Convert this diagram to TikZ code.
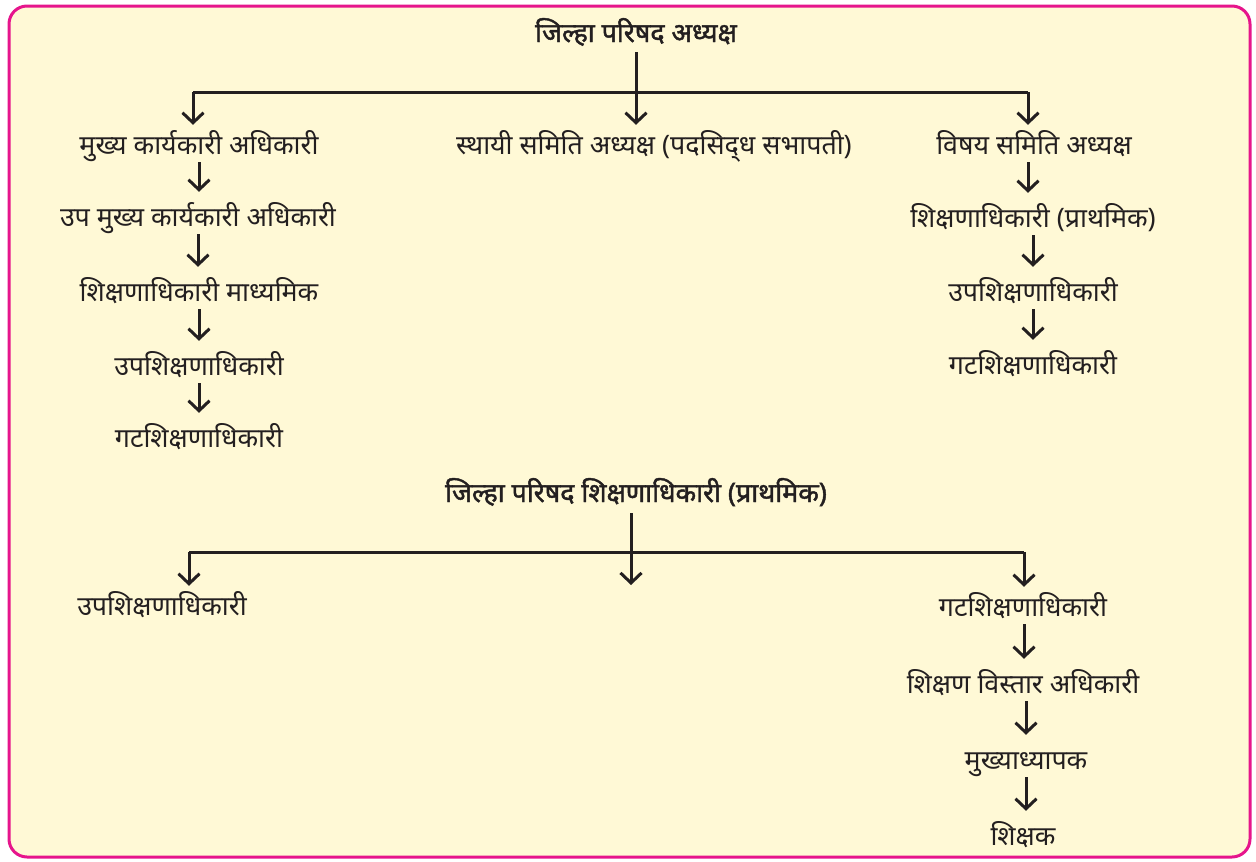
\documentclass[tikz,border=0pt]{standalone}
\usepackage{fontspec}
\setmainfont{Noto Sans}[Script=Devanagari]
\newfontfamily\ttlfont{Noto Sans}[Script=Devanagari, FakeBold=1.6]
\usetikzlibrary{arrows.meta}
\definecolor{framepink}{HTML}{E6158C}
\definecolor{bgcream}{HTML}{FFF9D6}
\definecolor{ink}{HTML}{231F20}
\begin{document}
\begin{tikzpicture}[x=1pt,y=-1pt,
 lbl/.style={text=ink, font=\fontsize{26.8}{30}\selectfont, inner sep=0pt, text height=26pt, text depth=8pt},
 ttl/.style={lbl, font=\fontsize{26.8}{30}\selectfont\ttlfont},
 ln/.style={draw=ink, line width=3pt},
 arr/.style={ln, -{Straight Barb[length=10pt,width=21pt]}},
 drop/.style={arr, shorten >=3pt},
 chain/.style={arr, shorten <=0pt, shorten >=8pt},
]
\useasboundingbox (0,0) rectangle (1256,862);
\draw[framepink, fill=bgcream, line width=3pt, rounded corners=18pt] (9,6) rectangle (1250,857);

% upper chart
\node[ttl] (t1) at (636,33) {जिल्हा परिषद अध्यक्ष};
\node[lbl] (a1) at (199,145) {मुख्य कार्यकारी अधिकारी};
\node[lbl] (a2) at (198,217) {उप मुख्य कार्यकारी अधिकारी};
\node[lbl] (a3) at (199,292) {शिक्षणाधिकारी माध्यमिक};
\node[lbl] (a4) at (199,366) {उपशिक्षणाधिकारी};
\node[lbl] (a5) at (199,438) {गटशिक्षणाधिकारी};
\node[lbl] (m1) at (654,145) {स्थायी समिति अध्यक्ष (पदसिद्‌ध सभापती)};
\node[lbl] (b1) at (1034,145) {विषय समिति अध्यक्ष};
\node[lbl] (b2) at (1033,218) {शिक्षणाधिकारी (प्राथमिक)};
\node[lbl] (b3) at (1033,292) {उपशिक्षणाधिकारी};
\node[lbl] (b4) at (1033,365) {गटशिक्षणाधिकारी};

\coordinate (j1) at (636,92);
\coordinate (l1) at (193,92);
\coordinate (r1) at (1028,92);
\draw[ln] (l1) -- (r1);
\draw[ln, shorten <=2pt] (j1 |- t1.south) -- (j1);
\draw[drop] (l1) -- (l1 |- a1.north);
\draw[drop] (j1) -- (j1 |- m1.north);
\draw[drop] (r1) -- (r1 |- b1.north);
\draw[chain] (a1.south) -- (a1.south |- a2.north);
\draw[chain] (a2.south) -- (a2.south |- a3.north);
\draw[chain] (a3.south) -- (a3.south |- a4.north);
\draw[chain] (a4.south) -- (a4.south |- a5.north);
\draw[chain] (r1 |- b1.south) -- (r1 |- b2.north);
\draw[chain] (b2.south) -- (b2.south |- b3.north);
\draw[chain] (b3.south) -- (b3.south |- b4.north);

% lower chart
\node[ttl] (t2) at (636,493) {जिल्हा परिषद शिक्षणाधिकारी (प्राथमिक)};
\node[lbl] (c1) at (162,606) {उपशिक्षणाधिकारी};
\node[lbl] (d1) at (1023,607) {गटशिक्षणाधिकारी};
\node[lbl] (d2) at (1023,684) {शिक्षण विस्तार अधिकारी};
\node[lbl] (d3) at (1026,760) {मुख्याध्यापक};
\node[lbl] (d4) at (1023,836) {शिक्षक};

\coordinate (j2) at (631,552);
\coordinate (l2) at (189,552);
\coordinate (r2) at (1024,552);
\coordinate (e2) at (631,585);
\draw[ln] (l2) -- (r2);
\draw[ln, shorten <=3pt] (j2 |- t2.south) -- (j2);
\draw[arr] (j2) -- (e2);
\draw[drop] (l2) -- (l2 |- c1.north);
\draw[drop] (r2) -- (r2 |- d1.north);
\draw[chain] (r2 |- d1.south) -- (r2 |- d2.north);
\draw[chain] (d3.south |- d2.south) -- (d3.north);
\draw[chain] (d3.south) -- (d3.south |- d4.north);
\end{tikzpicture}
\end{document}
